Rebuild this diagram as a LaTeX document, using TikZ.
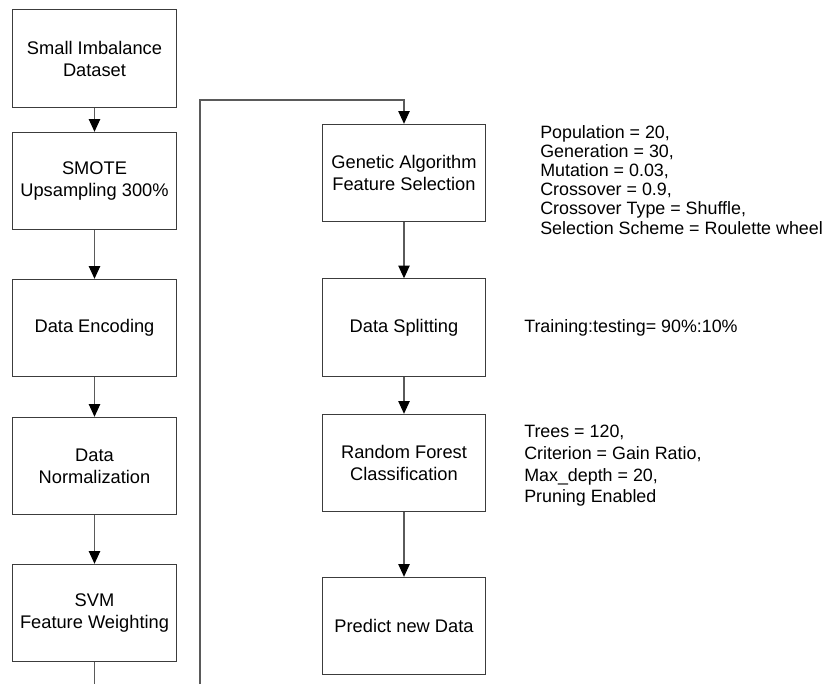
\documentclass[tikz,border=0pt]{standalone}
\usepackage{fontspec}
\setmainfont{Liberation Sans}
\usetikzlibrary{arrows.meta}
\definecolor{linec}{RGB}{90,90,90}
\definecolor{boxc}{RGB}{60,60,60}
\begin{document}
\begin{tikzpicture}[x=0.75pt,y=-0.75pt,
  box/.style={draw=boxc, line width=0.8pt, minimum width=122.5pt, minimum height=73pt, inner sep=0pt, align=center, font=\fontsize{13.7}{16.5}\selectfont},
  conn/.style={draw=linec, line width=0.8pt},
  arr/.style={conn, -{Triangle[length=9.5pt,width=8.5pt,fill=black,color=black]}},
  param/.style={anchor=west, inner sep=0pt, align=left}
]
\useasboundingbox (0,0) rectangle (830,684);
% left column
\node[box] (l1) at (94.5,58.5) {Small Imbalance\\Dataset};
\node[box] (l2) at (94.5,181) {SMOTE\\Upsampling 300\%};
\node[box] (l3) at (94.5,328) {Data Encoding};
\node[box] (l4) at (94.5,466) {Data\\Normalization};
\node[box] (l5) at (94.5,613) {SVM\\Feature Weighting};
% right column
\node[box] (r1) at (404,173) {Genetic Algorithm\\Feature Selection};
\node[box] (r2) at (404,327.5) {Data Splitting};
\node[box] (r3) at (404,463) {Random Forest\\Classification};
\node[box] (r4) at (404,626) {Predict new Data};
% parameters
\node[param, font=\fontsize{13.4}{14.3}\selectfont] (p1) at (540,180) {Population = 20,\\Generation = 30,\\Mutation = 0.03,\\Crossover = 0.9,\\Crossover Type = Shuffle,\\Selection Scheme = Roulette wheel};
\node[param, font=\fontsize{13.4}{16.3}\selectfont] (p2) at (524,328) {Training:testing= 90\%:10\%};
\node[param, font=\fontsize{13.4}{16.3}\selectfont] (p3) at (524,466) {Trees = 120,\\Criterion = Gain Ratio,\\Max\_depth = 20,\\Pruning Enabled};
% coordinates
\coordinate (b1) at (94.5,684);
\coordinate (b2) at (200,684);
\coordinate (t) at (200,100);
% connectors
\draw[arr] (l1) -- (l2);
\draw[arr] (l2) -- (l3);
\draw[arr] (l3) -- (l4);
\draw[arr] (l4) -- (l5);
\draw[conn] (l5) -- (b1);
\draw[arr] (b2) -- (t) -| (r1);
\draw[arr] (r1) -- (r2);
\draw[arr] (r2) -- (r3);
\draw[arr] (r3) -- (r4);
\end{tikzpicture}
\end{document}
